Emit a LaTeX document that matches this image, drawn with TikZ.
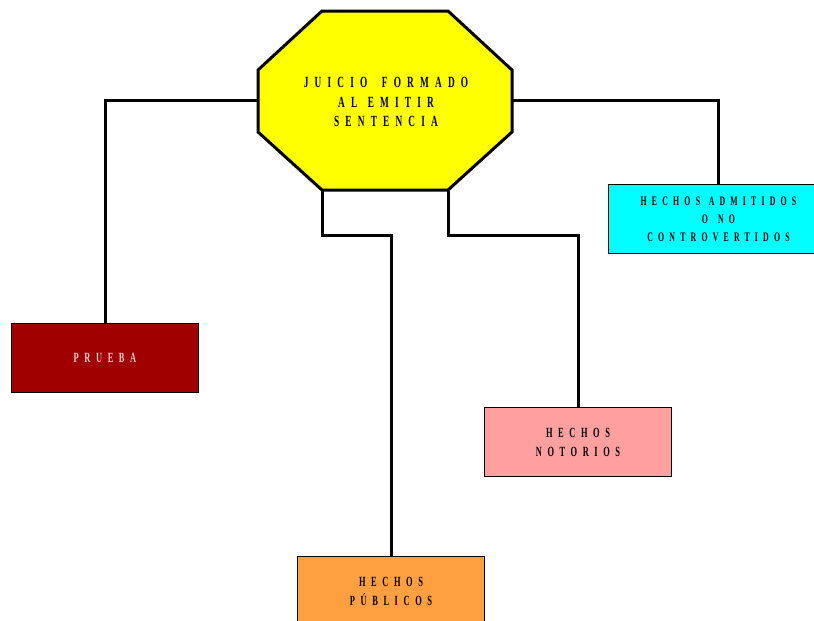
\documentclass[tikz,border=0pt]{standalone}
\usepackage{fontspec}
\newfontfamily\lblfont[FakeStretch=0.6,LetterSpace=40]{Liberation Serif}
\definecolor{octfill}{HTML}{FFFF00}
\definecolor{cyanbox}{HTML}{00FFFF}
\definecolor{redbox}{HTML}{A00000}
\definecolor{pinkbox}{HTML}{FFA0A0}
\definecolor{orangebox}{HTML}{FFA040}
\definecolor{palepink}{HTML}{F4D0D0}
\newcommand{\wgap}[1]{\hspace*{#1}}
\begin{document}
\begin{tikzpicture}[x=1pt,y=-1pt,
  wire/.style={line width=3pt},
  lbl/.style={font=\lblfont\bfseries\fontsize{14}{19}\selectfont,align=center},
  boxnode/.style={lbl,draw=black,line width=1pt,minimum width=187pt,
    minimum height=69pt,anchor=north west,inner sep=0pt},
]
\useasboundingbox (0,0) rectangle (814,621);

% central octagon
\draw[line width=3pt,fill=octfill,line join=miter]
  (322,11) -- (448,11) -- (512,70) -- (512,132) -- (448,190)
  -- (322,190) -- (258,132) -- (258,70) -- cycle;
\node[lbl,font=\lblfont\bfseries\fontsize{15.5}{19.5}\selectfont] (juicio) at (386,102)
  {JUICIO \wgap{6pt}FORMADO\\AL \wgap{2pt}EMITIR\\SENTENCIA};
\coordinate (octL) at (258,100);
\coordinate (octR) at (512,100);
\coordinate (octBL) at (322,190);
\coordinate (octBR) at (448,190);

% outcome boxes
\node[boxnode,fill=cyanbox,minimum width=220pt,
  font=\lblfont\bfseries\fontsize{13}{18}\selectfont] (admitidos) at (608,184)
  {HECHOS \wgap{1.5pt}ADMITIDOS\\O \wgap{3pt}NO\\CONTROVERTIDOS};
\node[boxnode,fill=redbox,text=palepink] (prueba) at (11,323) {PRUEBA};
\node[boxnode,fill=pinkbox] (notorios) at (484,407) {HECHOS\\NOTORIOS};
\node[boxnode,fill=orangebox] (publicos) at (297,556) {HECHOS\\PÚBLICOS};

% connectors
\draw[wire] (octL) -| (prueba.north);
\draw[wire] (octR) -| (admitidos.north);
\draw[wire] (octBL) -- ++(0,45) -| (publicos.north);
\draw[wire] (octBR) -- ++(0,45) -| (notorios.north);
\end{tikzpicture}
\end{document}
